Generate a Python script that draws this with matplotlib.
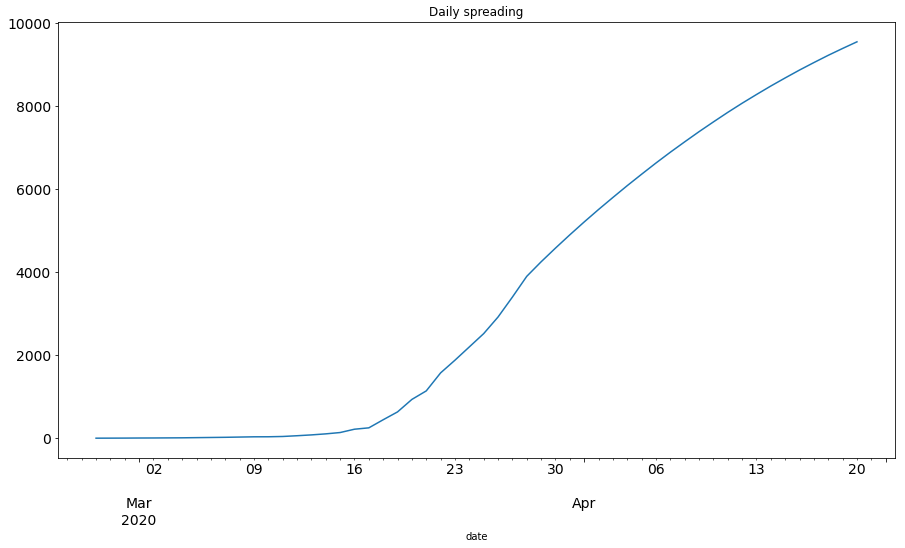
import numpy as np
import pandas as pd
import matplotlib
matplotlib.use("Agg")
import matplotlib.pyplot as plt

start_date = "2020-02-27"
end_date = "2020-04-20"

# daily cumulative values, Feb 27 .. Apr 20
early = [1, 2, 3, 5, 6, 8, 10, 14, 18, 22, 28, 34, 35, 42, 60, 80, 105, 137]
growth = [217, 250, 445, 634, 935, 1140, 1574, 1880, 2200, 2520, 2920, 3400]
late = [3900, 4250, 4580, 4900, 5210, 5510, 5800, 6085, 6360, 6630, 6890, 7140,
        7385, 7620, 7850, 8070, 8280, 8485, 8680, 8870, 9050, 9225, 9390, 9550]

values = early + growth + late
dates = pd.date_range(start_date, end_date, freq="D", name="date")
series = pd.Series(values, index=dates)

fig = plt.figure(figsize=(905 / 72, 548 / 72), dpi=72)
ax = fig.add_axes([58 / 905, 90 / 548, 837 / 905, 436 / 548])
series.plot(ax=ax, fontsize=14, title="Daily spreading")

# pandas pins the x range to the data; add the usual 5% margin
lo, hi = ax.get_xlim()
pad = 0.05 * (hi - lo)
ax.set_xlim(lo - pad, hi + pad)

fig.savefig("out.png", dpi=72)
